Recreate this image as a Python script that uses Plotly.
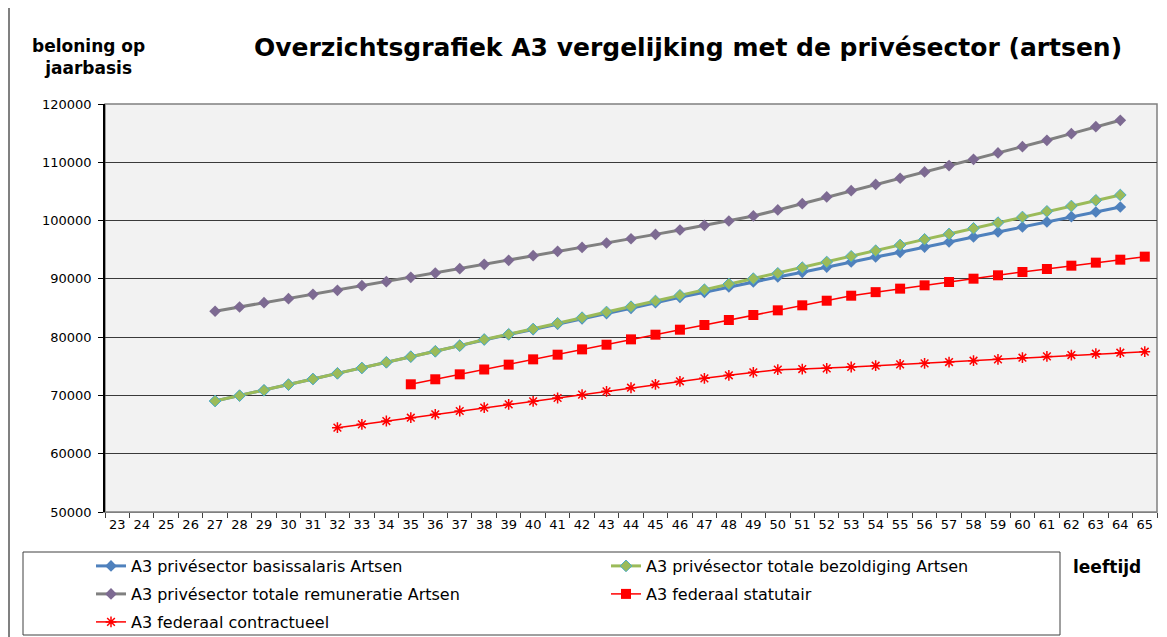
import plotly.graph_objects as go

# --- data -------------------------------------------------------------------
leeftijden = [str(a) for a in range(23, 66)]

basis_start = 27
basissalaris = [69040, 69960, 70880, 71850, 72820, 73790, 74710, 75680, 76650, 77570,
                78540, 79550, 80450, 81300, 82250, 83150, 84050, 84950, 85910, 86830,
                87690, 88600, 89460, 90320, 91120, 92030, 92890, 93750, 94550, 95460,
                96320, 97180, 98040, 98900, 99760, 100670, 101470, 102330]

bezold_start = 27
bezoldiging = [69040, 69960, 70880, 71850, 72820, 73790, 74710, 75680, 76650, 77570,
               78540, 79600, 80490, 81400, 82370, 83340, 84310, 85220, 86200, 87170,
               88140, 89120, 90030, 90950, 91920, 92890, 93870, 94830, 95810, 96780,
               97700, 98670, 99640, 100610, 101580, 102500, 103470, 104390]

remun_start = 27
remuneratie = [84440, 85170, 85910, 86600, 87340, 88030, 88830, 89510, 90260, 91000,
               91750, 92500, 93180, 93970, 94720, 95400, 96150, 96880, 97630, 98380,
               99180, 99930, 100790, 101820, 102900, 104050, 105130, 106200, 107260, 108340,
               109430, 110510, 111600, 112680, 113770, 114910, 116110, 117200]

statut_start = 35
statutair = [71910, 72770, 73620, 74450, 75280, 76190, 76990, 77900, 78700, 79620,
             80420, 81280, 82080, 82940, 83800, 84600, 85460, 86250, 87110, 87720,
             88320, 88890, 89460, 90030, 90610, 91180, 91690, 92260, 92780, 93290, 93810]

contr_start = 32
contractueel = [64470, 65040, 65610, 66180, 66760, 67330, 67900, 68470, 68990, 69560,
                70130, 70700, 71320, 71900, 72420, 72930, 73450, 73960, 74420, 74530,
                74650, 74880, 75100, 75330, 75500, 75730, 75960, 76190, 76470, 76700,
                76930, 77160, 77330, 77500]

FONT = "DejaVu Sans, Verdana, sans-serif"
# de pagina heeft 8px body-marge: figuur iets kleiner en alles 8px opgeschoven
OFF = 8
W, H = 1167 - OFF, 637 - OFF
M = dict(l=97, r=10, t=96, b=125)
PW, PH = W - M["l"] - M["r"], H - M["t"] - M["b"]


def px_x(x):
    # schermpixel -> paper x
    return (x - OFF - M["l"]) / PW


def px_y(y):
    return (H - M["b"] - (y - OFF)) / PH


def cont_x(x):
    # schermpixel -> container x
    return (x - OFF) / W


def cont_y(y):
    return 1 - (y - OFF) / H


def reeks(start, waarden):
    return [str(start + i) for i in range(len(waarden))], waarden


fig = go.Figure()

x, y = reeks(basis_start, basissalaris)
fig.add_trace(go.Scatter(x=x, y=y, name="A3 privésector basissalaris Artsen", mode="lines+markers",
                         line=dict(color="#4F81BD", width=3),
                         marker=dict(symbol="diamond", size=9, color="#4F81BD"),
                         legend="legend"))
x, y = reeks(bezold_start, bezoldiging)
fig.add_trace(go.Scatter(x=x, y=y, name="A3 privésector totale bezoldiging Artsen", mode="lines+markers",
                         line=dict(color="#9BBB59", width=3),
                         marker=dict(symbol="diamond", size=9, color="#9BBB59",
                                     line=dict(color="#4BACC6", width=1)),
                         legend="legend"))
x, y = reeks(remun_start, remuneratie)
fig.add_trace(go.Scatter(x=x, y=y, name="A3 privésector totale remuneratie Artsen", mode="lines+markers",
                         line=dict(color="#808080", width=3),
                         marker=dict(symbol="diamond", size=9, color="#7D6A92"),
                         legend="legend2"))
x, y = reeks(statut_start, statutair)
fig.add_trace(go.Scatter(x=x, y=y, name="A3 federaal statutair", mode="lines+markers",
                         line=dict(color="#FF0000", width=1.5),
                         marker=dict(symbol="square", size=10, color="#FF0000"),
                         legend="legend2"))
x, y = reeks(contr_start, contractueel)
fig.add_trace(go.Scatter(x=x, y=y, name="A3 federaal contractueel", mode="lines+markers",
                         line=dict(color="#FF0000", width=1.5),
                         marker=dict(symbol="asterisk-open", size=9,
                                     line=dict(color="#FF0000", width=1.5)),
                         legend="legend3"))

# kader rond legende en linkerrand van de grafiek
fig.add_shape(type="rect", xref="paper", yref="paper",
              x0=px_x(23), x1=px_x(1060), y0=px_y(635), y1=px_y(552),
              line=dict(color="#404040", width=1))
fig.add_shape(type="line", xref="paper", yref="paper",
              x0=px_x(9), x1=px_x(9), y0=px_y(640), y1=px_y(0),
              line=dict(color="#808080", width=2))
fig.add_shape(type="rect", xref="paper", yref="paper", x0=0, x1=1, y0=0, y1=1,
              line=dict(color="#808080", width=1.5), layer="below")

fig.add_annotation(text="<b>beloning op<br>jaarbasis</b>", xref="paper", yref="paper",
                   x=px_x(88), y=px_y(57), xanchor="center", yanchor="middle",
                   showarrow=False, align="center",
                   font=dict(family=FONT, size=17, color="black"))
fig.add_annotation(text="<b>leeftijd</b>", xref="paper", yref="paper",
                   x=px_x(1107), y=px_y(567), xanchor="center", yanchor="middle",
                   showarrow=False,
                   font=dict(family=FONT, size=17, color="black"))

leg = dict(orientation="h", xanchor="left", yanchor="middle",
           xref="container", yref="container",
           entrywidth=470, entrywidthmode="pixels", bgcolor="rgba(0,0,0,0)",
           font=dict(family=FONT, size=16, color="black"), itemwidth=30)

fig.update_layout(
    width=W, height=H,
    margin=M,
    paper_bgcolor="white",
    plot_bgcolor="#F2F2F2",
    font=dict(family=FONT, size=13, color="black"),
    title=dict(text="<b>Overzichtsgrafiek A3 vergelijking met de privésector (artsen)</b>",
               x=(688 - OFF) / W, y=1 - (47 - OFF) / H, xanchor="center", yanchor="middle",
               font=dict(family=FONT, size=25, color="black")),
    xaxis=dict(type="category", categoryorder="array", categoryarray=leeftijden,
               range=[-0.5, len(leeftijden) - 0.5], tickson="boundaries",
               ticks="outside", ticklen=5, tickcolor="#404040", tickangle=0,
               showline=True, linecolor="#808080", linewidth=1, automargin=False,
               showgrid=False, tickfont=dict(size=13)),
    yaxis=dict(range=[50000, 120000], dtick=10000, tickformat="d",
               ticks="outside", ticklen=5, ticklabelstandoff=4, automargin=False,
               tickcolor="black", showline=True, linecolor="black", linewidth=1.5,
               showgrid=True, gridcolor="#3A3A3A", gridwidth=1, zeroline=False,
               tickfont=dict(size=13)),
    showlegend=True,
    legend=dict(leg, x=cont_x(91), y=cont_y(566)),
    legend2=dict(leg, x=cont_x(91), y=cont_y(594)),
    legend3=dict(leg, x=cont_x(91), y=cont_y(622)),
)

fig.write_html("out.html")
